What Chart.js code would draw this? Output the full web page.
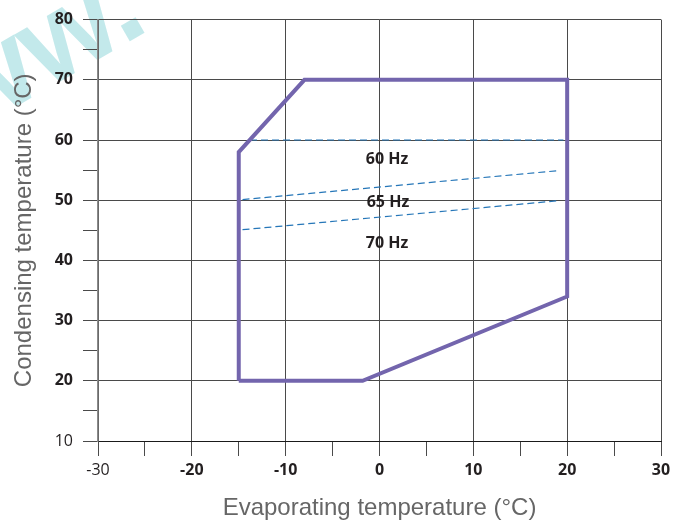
<!DOCTYPE html>
<html>
<head>
<meta charset="utf-8">
<script src="https://cdn.jsdelivr.net/npm/chart.js@4"></script>
<style>
  html, body { margin: 0; padding: 0; background: #ffffff; }
  #wrap { width: 673px; height: 527px; }
</style>
</head>
<body>
<div id="wrap"><canvas id="c" width="673" height="527"></canvas></div>
<script>
// ---- data ----
const envelopeX = [-15, -15, -8, 20, 20, -1.8, -15];
const envelopeY = [20, 58, 70, 70, 34, 20, 20];

const hz60X = [-13.8, 19.6];
const hz60Y = [60, 60];
const hz65X = [-14.6, 19];
const hz65Y = [50.1, 54.9];
const hz70X = [-14.6, 19];
const hz70Y = [45.1, 49.9];

const hzLabels = ['60 Hz', '65 Hz', '70 Hz'];
const hzLabelX = [0.8, 0.9, 0.8];
const hzLabelY = [56.7, 49.7, 42.8];

const xTickValues = [-30, -25, -20, -15, -10, -5, 0, 5, 10, 15, 20, 25, 30];
const xTickLabels = [-30, -20, -10, 0, 10, 20, 30];
const yTickValues = [10, 15, 20, 25, 30, 35, 40, 45, 50, 55, 60, 65, 70, 75, 80];
const yTickLabels = [10, 20, 30, 40, 50, 60, 70, 80];

const xTitle = 'Evaporating temperature (°C)';
const yTitle = 'Condensing temperature (°C)';
const watermark = 'www.';

// ---- helpers ----
const zip = (xs, ys) => xs.map((x, i) => ({ x: x, y: ys[i] }));
const tickFont = 'Open Sans';
const gridCol = '#4a4a4a';

const labelPlugin = {
  id: 'hzLabels',
  afterDatasetsDraw(chart) {
    const { ctx, scales } = chart;
    ctx.save();
    ctx.font = 'bold 16px "Open Sans"';
    ctx.fillStyle = '#231f20';
    ctx.textAlign = 'center';
    ctx.textBaseline = 'middle';
    hzLabels.forEach((t, i) => {
      ctx.fillText(t, scales.x.getPixelForValue(hzLabelX[i]), scales.y.getPixelForValue(hzLabelY[i]));
    });
    ctx.restore();
  }
};

const watermarkPlugin = {
  id: 'watermark',
  beforeDraw(chart) {
    const ctx = chart.ctx;
    ctx.save();
    ctx.translate(-116, 183);
    ctx.rotate(-30 * Math.PI / 180);
    ctx.font = 'bold 120px "Liberation Sans"';
    ctx.fillStyle = '#c3e9eb';
    ctx.textBaseline = 'alphabetic';
    ctx.fillText(watermark, 0, 0);
    ctx.restore();
  }
};

new Chart(document.getElementById('c'), {
  type: 'scatter',
  data: {
    datasets: [
      {
        label: 'Envelope',
        data: zip(envelopeX, envelopeY),
        showLine: true,
        borderColor: '#7365ad',
        borderWidth: 4,
        pointRadius: 0,
        fill: false,
        tension: 0,
        borderJoinStyle: 'miter'
      },
      {
        label: '60 Hz',
        data: zip(hz60X, hz60Y),
        showLine: true,
        borderColor: '#2576b8',
        borderWidth: 1.2,
        borderDash: [7, 4],
        pointRadius: 0
      },
      {
        label: '65 Hz',
        data: zip(hz65X, hz65Y),
        showLine: true,
        borderColor: '#2576b8',
        borderWidth: 1.2,
        borderDash: [7, 4],
        pointRadius: 0
      },
      {
        label: '70 Hz',
        data: zip(hz70X, hz70Y),
        showLine: true,
        borderColor: '#2576b8',
        borderWidth: 1.2,
        borderDash: [7, 4],
        pointRadius: 0
      }
    ]
  },
  options: {
    responsive: false,
    animation: false,
    layout: { padding: { top: 18, right: 12, left: 0, bottom: 0 } },
    plugins: {
      legend: { display: false },
      tooltip: { enabled: false }
    },
    scales: {
      x: {
        type: 'linear',
        min: -30,
        max: 30,
        afterBuildTicks: (s) => { s.ticks = xTickValues.map(v => ({ value: v })); },
        afterFit: (s) => { s.height = 86; s.paddingRight = 0; s.paddingLeft = 0; },
        grid: {
          color: (c) => (c.tick && xTickLabels.includes(c.tick.value)) ? gridCol : 'rgba(0,0,0,0)',
          tickColor: gridCol,
          tickLength: 15,
          lineWidth: 1
        },
        border: { color: '#1a1a1a', width: 1 },
        ticks: {
          padding: 5,
          autoSkip: false,
          maxRotation: 0,
          color: '#231f20',
          font: (c) => ({ family: tickFont, size: 16, weight: (c.tick && c.tick.value === -30) ? 'normal' : 'bold' }),
          callback: (v) => xTickLabels.includes(v) ? String(v) : ''
        },
        title: {
          display: true,
          text: xTitle,
          color: '#666666',
          font: { family: 'Liberation Sans', size: 24, weight: 'normal' },
          padding: { top: 0, bottom: 4 }
        }
      },
      y: {
        type: 'linear',
        min: 10,
        max: 80,
        afterBuildTicks: (s) => { s.ticks = yTickValues.map(v => ({ value: v })); },
        afterFit: (s) => { s.width = 98; },
        grid: {
          color: (c) => (c.tick && yTickLabels.includes(c.tick.value)) ? gridCol : 'rgba(0,0,0,0)',
          tickColor: gridCol,
          tickLength: 15,
          lineWidth: 1
        },
        border: { color: '#8a8a8a', width: 1.5 },
        ticks: {
          padding: 10,
          autoSkip: false,
          color: '#231f20',
          font: (c) => ({ family: tickFont, size: 16, weight: (c.tick && c.tick.value === 10) ? 'normal' : 'bold' }),
          callback: (v) => yTickLabels.includes(v) ? String(v) : ''
        },
        title: {
          display: true,
          text: yTitle,
          color: '#666666',
          font: { family: 'Liberation Sans', size: 24, weight: 'normal' },
          padding: { top: 10, bottom: 0 }
        }
      }
    }
  },
  plugins: [watermarkPlugin, labelPlugin]
});
</script>
</body>
</html>
